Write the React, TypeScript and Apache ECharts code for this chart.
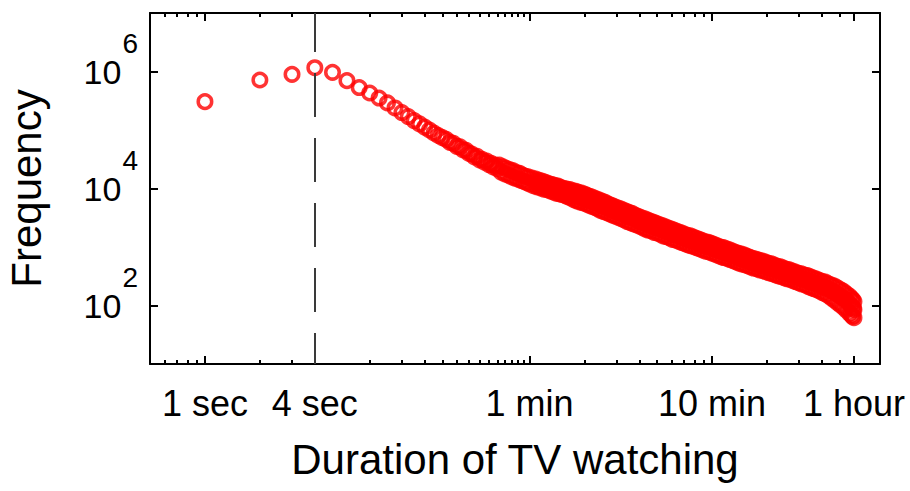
import { useEffect, useRef } from 'react';
import * as echarts from 'echarts';

// Viewing sessions lasting 1 s to 60 s (one entry per second)
const secondsShort = [
  1, 2, 3, 4, 5, 6, 7, 8, 9, 10,
  11, 12, 13, 14, 15, 16, 17, 18, 19, 20,
  21, 22, 23, 24, 25, 26, 27, 28, 29, 30,
  31, 32, 33, 34, 35, 36, 37, 38, 39, 40,
  41, 42, 43, 44, 45, 46, 47, 48, 49, 50,
  51, 52, 53, 54, 55, 56, 57, 58, 59, 60,
];
const countsShort = [
  305000, 716000, 895000, 1160000, 969000, 697000, 532000, 429000, 352000, 290000,
  238000, 199000, 170000, 145000, 127000, 112000, 100000, 88900, 80500, 74000,
  69200, 61700, 58900, 52500, 51300, 45700, 44700, 39800, 38900, 34700,
  35500, 30900, 31600, 28200, 29500, 25700, 26900, 23400, 25100, 21900,
  25100, 19100, 23400, 17800, 21900, 17000, 20900, 15800, 20000, 15100,
  18600, 14500, 18200, 13800, 17000, 13200, 16200, 12600, 15800, 12000,
];

// Longer sessions, 1 min to 1 hour: upper and lower edge of the cloud
const secondsLong = [
  62, 63, 65, 66, 68, 69, 71, 72, 74, 75, 77, 78, 80, 81, 83, 84, 86, 87, 89, 90,
  93, 94, 96, 97, 100, 101, 104, 105, 108, 109, 112, 113, 116, 117, 121, 122, 125, 126, 130, 131,
  135, 136, 140, 141, 145, 146, 151, 152, 157, 158, 163, 164, 169, 170, 175, 176, 182, 183, 189, 190,
  196, 197, 204, 205, 212, 213, 220, 221, 229, 230, 238, 239, 247, 248, 257, 258, 267, 268, 277, 278,
  288, 289, 299, 300, 311, 312, 323, 324, 336, 337, 349, 350, 363, 364, 377, 378, 392, 393, 407, 408,
  423, 424, 439, 440, 456, 457, 474, 475, 492, 493, 511, 512, 531, 532, 552, 553, 573, 574, 595, 596,
  618, 619, 642, 643, 667, 668, 693, 694, 720, 721, 748, 749, 777, 778, 807, 808, 838, 839, 870, 871,
  904, 905, 939, 940, 975, 976, 1013, 1014, 1052, 1053, 1092, 1093, 1134, 1135, 1178, 1179, 1223, 1224, 1270, 1271,
  1319, 1320, 1370, 1371, 1423, 1424, 1478, 1479, 1535, 1536, 1594, 1595, 1656, 1657, 1720, 1721, 1786, 1787, 1855, 1856,
  1927, 1928, 2001, 2002, 2078, 2079, 2159, 2160, 2242, 2243, 2329, 2330, 2419, 2420, 2512, 2513, 2609, 2610, 2710, 2711,
  2814, 2815, 2923, 2924, 3036, 3037, 3153, 3154, 3275, 3276, 3401, 3402, 3480, 3481, 3540, 3541, 3599, 3600,
];
const countsLong = [
  15100, 11200, 14500, 10700, 13800, 10200, 13200, 9770, 12600, 9550, 12000, 9120, 11700, 8710, 11200, 8320, 11000, 8130, 10500, 7940,
  10000, 7590, 9770, 7240, 9550, 6920, 9120, 6460, 8910, 6170, 8510, 5890, 8320, 5750, 7940, 5500, 7590, 5250, 7240, 5010,
  6920, 4790, 6610, 4570, 6310, 4270, 6030, 4070, 5750, 3890, 5370, 3720, 5130, 3550, 4900, 3390, 4680, 3240, 4470, 3090,
  4270, 2950, 4070, 2750, 3890, 2630, 3720, 2510, 3470, 2400, 3310, 2290, 3160, 2190, 3020, 2040, 2880, 1950, 2750, 1910,
  2630, 1780, 2510, 1740, 2400, 1660, 2290, 1550, 2190, 1510, 2090, 1450, 2000, 1350, 1910, 1320, 1820, 1260, 1740, 1200,
  1660, 1150, 1580, 1100, 1550, 1050, 1480, 1020, 1410, 977, 1350, 933, 1290, 891, 1230, 851, 1200, 832, 1150, 794,
  1100, 759, 1050, 724, 1000, 692, 977, 661, 933, 646, 891, 617, 851, 589, 813, 562, 776, 537, 759, 513,
  724, 501, 692, 479, 661, 457, 631, 437, 617, 427, 589, 407, 575, 398, 550, 380, 525, 363, 513, 355,
  490, 339, 468, 324, 457, 316, 437, 302, 417, 288, 407, 282, 389, 269, 372, 257, 355, 245, 347, 234,
  331, 229, 324, 214, 309, 204, 295, 195, 282, 186, 269, 178, 257, 166, 251, 158, 234, 148, 224, 135,
  214, 123, 200, 112, 186, 102, 174, 93, 158, 83, 145, 74, 132, 69, 126, 65, 117, 62,
];

// Longer sessions, 1 min to 1 hour: middle of the cloud
const secondsLongMid = [
  64, 67, 70, 73, 76, 79, 82, 85, 88, 92, 95, 98, 102, 106, 110, 114, 119, 123, 128, 133,
  138, 143, 148, 154, 160, 166, 172, 179, 186, 193, 200, 208, 216, 225, 234, 243, 252, 262, 272, 283,
  294, 305, 317, 330, 343, 356, 370, 385, 400, 415, 431, 448, 465, 483, 502, 521, 542, 563, 585, 607,
  630, 655, 680, 707, 734, 763, 792, 823, 854, 887, 922, 957, 994, 1033, 1072, 1113, 1156, 1200, 1246, 1294,
  1344, 1396, 1450, 1506, 1564, 1624, 1688, 1753, 1820, 1891, 1964, 2039, 2118, 2200, 2285, 2374, 2465, 2560, 2659, 2762,
  2868, 2979, 3094, 3214, 3338, 3440, 3510, 3570, 3598,
];
const countsLongMid = [
  13000, 12400, 11900, 11300, 10900, 10500, 10100, 9650, 9400, 9100, 8700, 8400, 8100, 7700, 7400, 7100, 6900, 6600, 6300, 6000,
  5750, 5500, 5200, 4950, 4730, 4470, 4270, 4080, 3890, 3720, 3550, 3350, 3200, 3060, 2890, 2750, 2630, 2480, 2370, 2290,
  2160, 2090, 2000, 1880, 1820, 1740, 1640, 1590, 1510, 1440, 1380, 1320, 1280, 1230, 1170, 1120, 1070, 1020, 1000, 956,
  914, 872, 832, 804, 776, 741, 708, 676, 646, 624, 602, 576, 550, 525, 513, 490, 478, 457, 437, 427,
  408, 389, 380, 363, 347, 339, 324, 309, 295, 285, 275, 263, 251, 240, 229, 219, 207, 199, 186, 174,
  162, 150, 138, 127, 115, 104, 95, 90, 85,
];

// Axis ticks
const majorTicks = [1, 4, 60, 600, 3600];
const majorTickLabels = ['1 sec', '4 sec', '1 min', '10 min', '1 hour'];
const minorTicks = [
  0.6, 0.7, 0.8, 0.9, 2, 3,
  8, 12, 16, 20, 24, 28, 32, 36, 40, 44, 48, 52, 56,
  120, 180, 240, 300, 360, 420, 480, 540,
  1200, 1800, 2400, 3000,
];
const yTicks = [100, 10000, 1000000];

// Threshold separating very short zaps from real viewing
const thresholdSeconds = 4;

const FONT = "'Liberation Sans', Arial, Helvetica, sans-serif";

function matchTick(v: number, list: number[]): number {
  let i = list.findIndex((t) => Math.abs(t - v) / t < 1e-6);
  if (i < 0) {
    const p = Math.pow(10, v);
    i = list.findIndex((t) => Math.abs(t - p) / t < 1e-4);
  }
  return i;
}

export default function App() {
  const ref = useRef<HTMLDivElement>(null);

  useEffect(() => {
    if (!ref.current) return;
    const chart = echarts.init(ref.current, null, { renderer: 'svg' });

    const points: number[][] = [];
    secondsShort.forEach((s, i) => points.push([s, countsShort[i]]));
    secondsLong.forEach((s, i) => points.push([s, countsLong[i]]));
    secondsLongMid.forEach((s, i) => points.push([s, countsLongMid[i]]));

    const frameLine = { show: true, onZero: false, lineStyle: { color: '#000', width: 2 } };
    const tickStyle = { color: '#000', width: 2 };
    const xRange = { type: 'log', logBase: 10, min: 0.5, max: 5000, splitLine: { show: false } };
    const yRange = { type: 'log', logBase: 10, min: 10, max: 10000000, splitLine: { show: false } };

    const majorX = (position: string, withLabels: boolean) => ({
      ...xRange,
      position,
      axisLine: frameLine,
      axisTick: { show: true, inside: true, length: 8, lineStyle: tickStyle, customValues: majorTicks },
      axisLabel: withLabels
        ? {
            show: true,
            customValues: majorTicks,
            formatter: (v: number) => {
              const i = matchTick(v, majorTicks);
              return i >= 0 ? majorTickLabels[i] : '';
            },
            margin: 21,
            fontSize: 36,
            lineHeight: 36,
            color: '#000',
            fontFamily: FONT,
          }
        : { show: false },
    });

    const minorX = (position: string) => ({
      ...xRange,
      position,
      axisLine: { show: false },
      axisTick: { show: true, inside: true, length: 4, lineStyle: tickStyle, customValues: minorTicks },
      axisLabel: { show: false },
    });

    chart.setOption({
      animation: false,
      backgroundColor: '#fff',
      grid: {
        left: 150,
        top: 13,
        right: 30,
        bottom: 127,
        containLabel: false,
        outerBoundsMode: 'none',
      },
      xAxis: [
        {
          ...majorX('bottom', true),
          name: 'Duration of TV watching',
          nameLocation: 'middle',
          nameGap: 74,
          nameTextStyle: { fontSize: 42, lineHeight: 42, color: '#000', fontFamily: FONT },
        },
        minorX('bottom'),
        majorX('top', false),
        minorX('top'),
      ],
      yAxis: [
        {
          ...yRange,
          position: 'left',
          axisLine: frameLine,
          axisTick: { show: true, inside: true, length: 8, lineStyle: tickStyle, customValues: yTicks },
          axisLabel: {
            show: true,
            customValues: yTicks,
            margin: 12,
            formatter: (v: number) => {
              const e = v > 20 ? Math.round(Math.log10(v)) : Math.round(v);
              return `{b|10}{s|${e}}`;
            },
            rich: {
              b: { fontSize: 34, lineHeight: 34, color: '#000', fontFamily: FONT, verticalAlign: 'middle' },
              s: { fontSize: 28, color: '#000', fontFamily: FONT, padding: [0, 0, 56, 1], verticalAlign: 'middle' },
            },
          },
          name: 'Frequency',
          nameLocation: 'middle',
          nameGap: 103,
          nameTextStyle: { fontSize: 42, lineHeight: 42, color: '#000', fontFamily: FONT },
        },
        {
          ...yRange,
          position: 'right',
          axisLine: frameLine,
          axisTick: { show: true, inside: true, length: 8, lineStyle: tickStyle, customValues: yTicks },
          axisLabel: { show: false },
        },
      ],
      series: [
        {
          type: 'scatter',
          xAxisIndex: 0,
          yAxisIndex: 0,
          data: points,
          symbol: 'circle',
          symbolSize: 13.5,
          itemStyle: { color: 'rgba(0,0,0,0)', borderColor: '#ff0000', borderWidth: 3.5 },
          emphasis: { disabled: true },
          markLine: {
            silent: true,
            symbol: ['none', 'none'],
            label: { show: false },
            lineStyle: { color: '#3a3a3a', width: 2, type: [44, 21], dashOffset: 13 },
            data: [{ xAxis: thresholdSeconds }],
          },
        },
      ],
    });

    return () => chart.dispose();
  }, []);

  return (
    <div
      ref={ref}
      style={{ position: 'fixed', left: 0, top: 0, width: 910, height: 491, background: '#fff' }}
    />
  );
}
